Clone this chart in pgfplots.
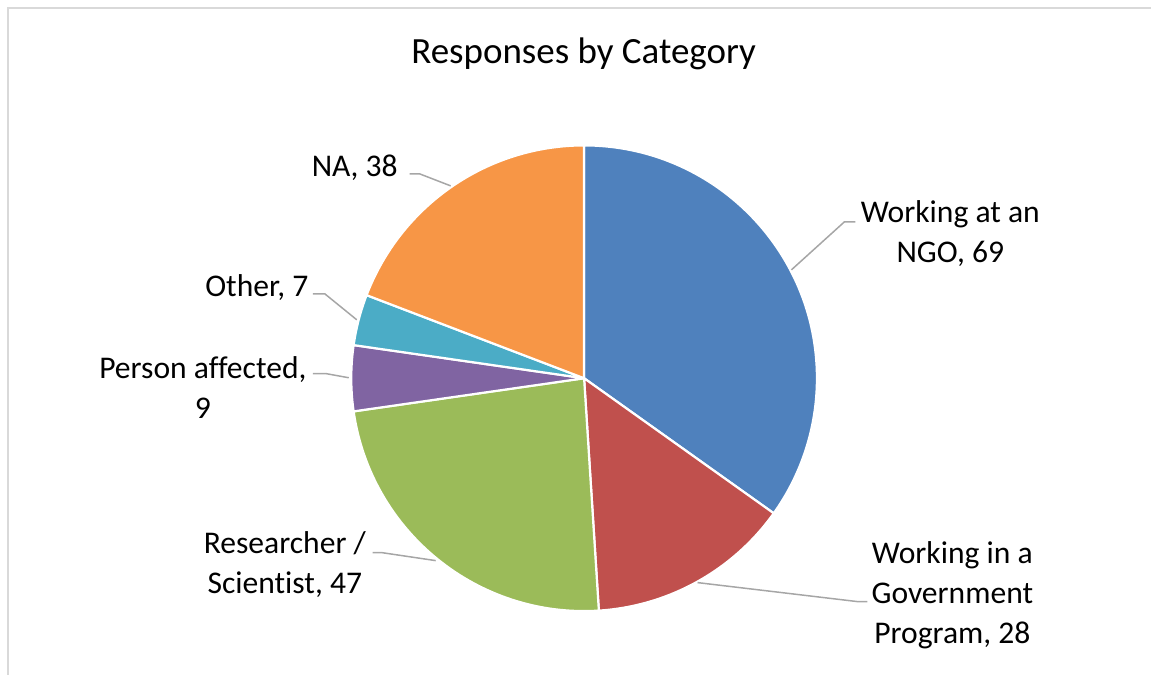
\documentclass[border=0pt]{standalone}
\usepackage{pgfplots}
\pgfplotsset{compat=1.18}
\usepackage{fontspec}
\setmainfont{Carlito}[Ligatures=NoCommon]

\definecolor{sBlue}{HTML}{4F81BD}
\definecolor{sRed}{HTML}{C0504D}
\definecolor{sGreen}{HTML}{9BBB59}
\definecolor{sPurple}{HTML}{8064A2}
\definecolor{sCyan}{HTML}{4BACC6}
\definecolor{sOrange}{HTML}{F79646}
\definecolor{leader}{HTML}{A6A6A6}
\definecolor{frame}{HTML}{D9D9D9}

% pie in pixel units of the reference (1 px = 0.5pt)
\def\cx{584.5}\def\cy{378.5}\def\rad{116.5pt}
\def\total{198}
% #1 count before this slice, #2 value, #3 colour
\newcommand{\pieslice}[3]{%
  \pgfmathsetmacro\sa{90-(360/\total)*#1}%
  \pgfmathsetmacro\sb{90-(360/\total)*(#1+#2)}%
  \edef\temp{\noexpand\filldraw[fill=#3, draw=white, line width=1.1pt, line join=round]
    (axis cs:\cx,\cy) -- ++(\sa:\rad) arc[start angle=\sa, end angle=\sb, radius=\rad] -- cycle;}%
  \temp
}

\begin{document}
\begin{tikzpicture}
\begin{axis}[
    scale only axis,
    width=576pt, height=337.5pt,
    xmin=0, xmax=1152, ymin=0, ymax=675,
    y dir=reverse,
    hide axis,
    clip=false,
]
\path (axis cs:0,0) rectangle (axis cs:1152,675);
\draw[frame, line width=0.8pt] (axis cs:8,675) -- (axis cs:8,8) -- (axis cs:1152,8);

% slices: NGO 69, Government 28, Researcher 47, Person affected 9, Other 7, NA 38
\pieslice{0}{69}{sBlue}
\pieslice{69}{28}{sRed}
\pieslice{97}{47}{sGreen}
\pieslice{144}{9}{sPurple}
\pieslice{153}{7}{sCyan}
\pieslice{160}{38}{sOrange}

% leader lines
\begin{scope}[leader, line width=0.75pt]
\draw (axis cs:792,270) -- (axis cs:845,222) -- (axis cs:856,222);
\draw (axis cs:698,583) -- (axis cs:858,602) -- (axis cs:868,602);
\draw (axis cs:436,561) -- (axis cs:382,553) -- (axis cs:373,553);
\draw (axis cs:349,378) -- (axis cs:327,374) -- (axis cs:313,374);
\draw (axis cs:357,320) -- (axis cs:325,294) -- (axis cs:313,294);
\draw (axis cs:451,186) -- (axis cs:420,174) -- (axis cs:410,174);
\end{scope}

\begin{scope}[every node/.style={align=center, inner sep=0pt, font=\fontsize{15.8}{20}\selectfont}]
\node at (axis cs:951,234) {Working at an\\NGO, 69};
\node at (axis cs:953,596) {Working in a\\Government\\Program, 28};
\node at (axis cs:285,565) {Researcher /\\Scientist, 47};
\node at (axis cs:203,388) {Person affected,\\9};
\node at (axis cs:257,288) {Other, 7};
\node at (axis cs:355,168) {NA, 38};
\end{scope}

\node[inner sep=0pt, font=\fontsize{18.5}{22}\selectfont] at (axis cs:584,54) {Responses by Category};
\end{axis}
\end{tikzpicture}
\end{document}
